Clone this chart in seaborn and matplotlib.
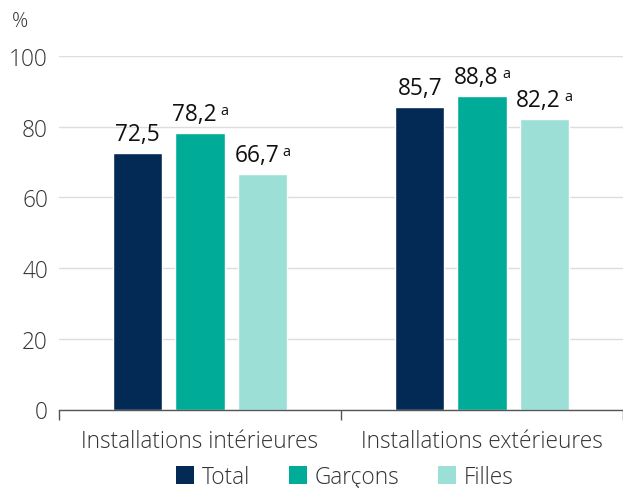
import matplotlib
matplotlib.use("Agg")
import matplotlib.pyplot as plt
import seaborn as sns
import pandas as pd
from matplotlib.patches import Patch

categories = ["Installations intérieures", "Installations extérieures"]
series = ["Total", "Garçons", "Filles"]
total = [72.5, 85.7]
garcons = [78.2, 88.8]
filles = [66.7, 82.2]
flags = {"Total": ["", ""], "Garçons": ["a", "a"], "Filles": ["a", "a"]}
yticks = [0, 20, 40, 60, 80, 100]

colors = ["#022a55", "#00ac97", "#9cdfd7"]

rows = []
for s, vals in zip(series, [total, garcons, filles]):
    for c, v in zip(categories, vals):
        rows.append({"cat": c, "series": s, "val": v})
df = pd.DataFrame(rows)

sns.set_style("white")
plt.rcParams["font.family"] = ["Open Sans", "DejaVu Sans"]

fig = plt.figure(figsize=(6.23, 4.89), dpi=100)
ax_left = 59
unit = 285.3
ax = fig.add_axes([ax_left / 623, 78.5 / 489, 1 - ax_left / 623, 353.5 / 489])

sns.barplot(data=df, x="cat", y="val", hue="series", order=categories,
            hue_order=series, palette=colors, width=0.6625, gap=0.206,
            saturation=1, ax=ax, legend=False)

ax.set_xlim(-0.5, (623 - ax_left) / unit - 0.5)
ax.set_ylim(0, 100)
ax.set_yticks(yticks)
ax.set_yticklabels([str(t) for t in yticks], fontsize=16.3, color="#333333",
                   fontweight="light")
ax.yaxis.grid(True, color="#dddddd", linewidth=1)
ax.set_axisbelow(True)
for sp in ["top", "right", "left"]:
    ax.spines[sp].set_visible(False)
ax.spines["bottom"].set_color("#555555")
ax.spines["bottom"].set_linewidth(1)
ax.tick_params(axis="y", length=0, pad=8)
ax.tick_params(axis="x", which="major", bottom=False, length=0, pad=14,
               labelsize=16.3, labelcolor="#333333")
for lab in ax.get_xticklabels():
    lab.set_fontweight("light")
ax.set_xticks([-0.5, 0.5, 1.5], minor=True)
ax.tick_params(axis="x", which="minor", bottom=True, direction="out", length=7,
               color="#555555", width=1)
ax.set_xlabel("")
ax.set_ylabel("")

# value labels
for container, s in zip(ax.containers, series):
    for i, bar in enumerate(container):
        h = bar.get_height()
        xc = bar.get_x() + bar.get_width() / 2
        label = f"{h:.1f}".replace(".", ",")
        flag = flags[s][i]
        if flag:
            ax.annotate(label, (xc, h), xytext=(-4, 5), textcoords="offset points",
                        ha="center", va="bottom", fontsize=16.3, color="#111111",
                        annotation_clip=False)
            ax.annotate(flag, (xc, h), xytext=(17.5, 10.5), textcoords="offset points",
                        ha="center", va="bottom", fontsize=10.5, color="#111111",
                        annotation_clip=False)
        else:
            ax.annotate(label, (xc, h), xytext=(0, 5), textcoords="offset points",
                        ha="center", va="bottom", fontsize=16.3, color="#111111",
                        annotation_clip=False)

fig.text(12 / 623, 1 - 22 / 489, "%", fontsize=14.5, color="#333333",
         fontweight="light", va="center", ha="left")

handles = [Patch(facecolor=c, edgecolor="none") for c in colors]
leg = fig.legend(handles, series, loc="center", bbox_to_anchor=(345 / 623, 1 - 478 / 489),
                 ncol=3, frameon=False, fontsize=16.3, handlelength=0.8,
                 handleheight=0.8, handletextpad=0.35, columnspacing=1.7)
for t in leg.get_texts():
    t.set_color("#333333")
    t.set_fontweight("light")

fig.savefig("out.png", dpi=100)
